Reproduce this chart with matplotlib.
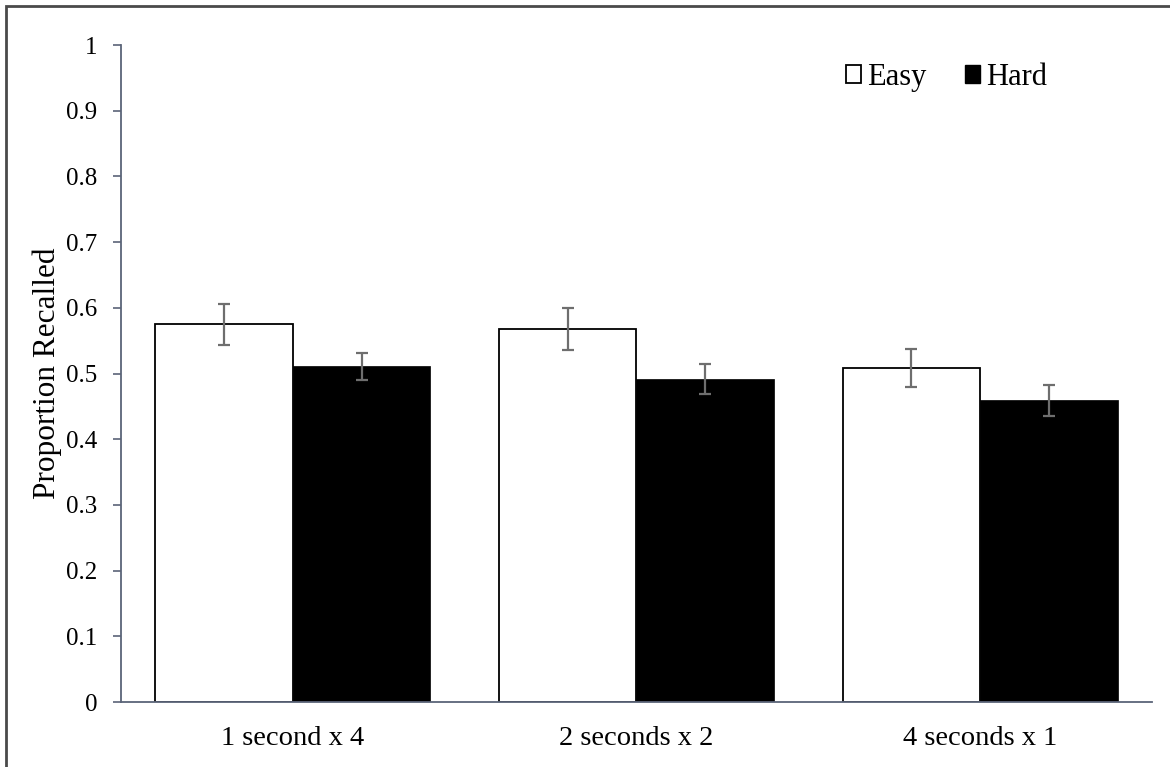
import numpy as np
import matplotlib
matplotlib.use("Agg")
import matplotlib.pyplot as plt
from matplotlib.patches import Rectangle, Patch

plt.rcParams['font.family'] = ['Liberation Serif', 'DejaVu Serif']

conditions = ["1 second x 4", "2 seconds x 2", "4 seconds x 1"]
easy_mean = [0.575, 0.568, 0.509]
easy_err = [0.031, 0.032, 0.029]
hard_mean = [0.511, 0.492, 0.459]
hard_err = [0.021, 0.023, 0.023]

spine_col = "#5b6478"
err_col = "#6e6e6e"

fig = plt.figure(figsize=(11.7, 7.67), dpi=100)
ax = fig.add_axes([0.1034, 0.0847, 0.8812, 0.8566])

x = np.arange(len(conditions))
w = 0.4
ax.bar(x - w / 2, easy_mean, w, color="white", edgecolor="black", linewidth=1.3,
       yerr=easy_err, error_kw=dict(ecolor=err_col, elinewidth=1.6, capsize=4, capthick=1.6),
       zorder=2)
ax.bar(x + w / 2, hard_mean, w, color="black", edgecolor="black", linewidth=0.5,
       yerr=hard_err, error_kw=dict(ecolor=err_col, elinewidth=1.6, capsize=4, capthick=1.6),
       zorder=2)

ax.set_xlim(-0.5, 2.5)
ax.set_ylim(0, 1)
ax.set_yticks(np.arange(0, 1.01, 0.1))
ax.set_yticklabels(["0", "0.1", "0.2", "0.3", "0.4", "0.5", "0.6", "0.7", "0.8", "0.9", "1"])
ax.set_xticks(x)
ax.set_xticklabels(conditions)
ax.tick_params(axis="y", direction="out", length=6, width=1.2, color=spine_col,
               labelsize=18, pad=11)
ax.tick_params(axis="x", length=0, labelsize=20.5, pad=17)
for s in ["top", "right"]:
    ax.spines[s].set_visible(False)
for s in ["left", "bottom"]:
    ax.spines[s].set_color(spine_col)
    ax.spines[s].set_linewidth(1.3)
ax.set_ylabel("Proportion Recalled", fontsize=22.5, labelpad=3)

handles = [Patch(facecolor="white", edgecolor="black", linewidth=1.3, label="Easy"),
           Patch(facecolor="black", edgecolor="black", label="Hard")]
ax.legend(handles=handles, ncol=2, frameon=False, fontsize=22,
          loc="upper right", bbox_to_anchor=(0.925, 1.015),
          handlelength=0.5, handleheight=0.5, handletextpad=0.2, columnspacing=1.25)

# outer frame, cut off at the right and bottom like the source image
fig.patches.append(Rectangle((6 / 1170, -0.05), 1.2, 1 - 6 / 767 + 0.05,
                             transform=fig.transFigure, fill=False,
                             edgecolor="#4a4a4a", linewidth=2, zorder=0))

fig.savefig("out.png", dpi=100)
